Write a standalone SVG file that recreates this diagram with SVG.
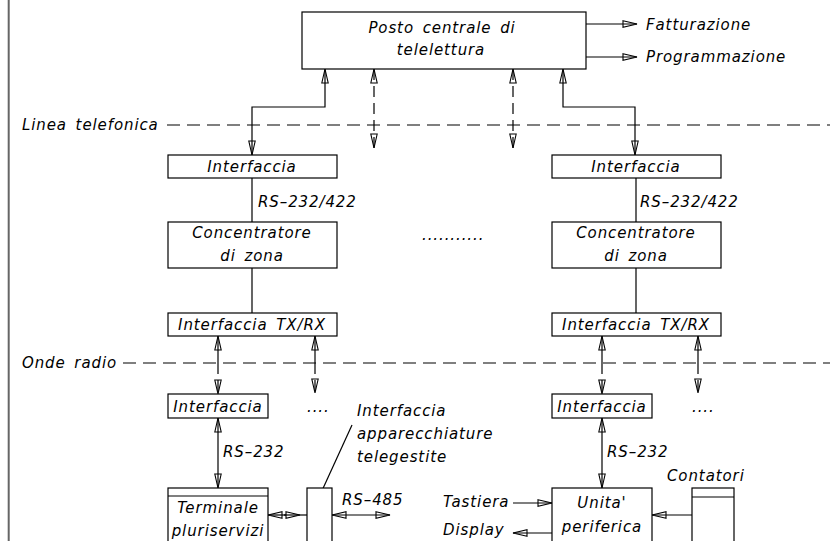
<svg xmlns="http://www.w3.org/2000/svg" width="830" height="541" viewBox="0 0 830 541">
<defs>
<style>
text{font-family:"DejaVu Sans","Liberation Sans",sans-serif;font-style:italic;font-size:15px;letter-spacing:0.9px;word-spacing:3px;fill:#000}
.c{text-anchor:middle}
.box{fill:#fff;stroke:#000;stroke-width:1.2}
.ln{fill:none;stroke:#000;stroke-width:1.2}
.dl{fill:none;stroke:#000;stroke-width:1.2;stroke-dasharray:13 7}
.da{fill:none;stroke:#000;stroke-width:1.2;stroke-dasharray:11 6}
.ae{marker-end:url(#ah)}
.as{marker-start:url(#ah)}
</style>
<marker id="ah" viewBox="-15 -4 16 8" refX="0" refY="0" markerWidth="16" markerHeight="8" markerUnits="userSpaceOnUse" orient="auto-start-reverse">
<path d="M-14,-3.2 L0,0 L-14,3.2 Z" fill="none" stroke="#000" stroke-width="1.1"/>
</marker>
</defs>
<rect width="830" height="541" fill="#fff"/>
<line x1="8.7" y1="0" x2="8.7" y2="541" stroke="#666" stroke-width="2"/>

<g id="sep-lines">
<line class="dl" x1="167" y1="125" x2="830" y2="125"/>
<line class="dl" x1="123" y1="363" x2="830" y2="363"/>
<text x="22" y="130">Linea  telefonica</text>
<text x="22" y="368">Onde  radio</text>
</g>

<g id="connectors">
<path class="ln ae" d="M586,24 H637"/>
<path class="ln ae" d="M586,57 H637"/>
<path class="ln as ae" d="M325,69 V107 H252 V155"/>
<path class="ln as ae" d="M563,69 V107 H635 V155"/>
<path class="da as ae" d="M374,69 V148"/>
<path class="da as ae" d="M513,69 V148"/>
<path class="ln" d="M252,178 V222 M252,268 V313"/>
<path class="ln" d="M636,178 V222 M636,268 V313"/>
<path class="ln as" d="M218,336 V363"/>
<path class="da ae" d="M218,363 V394"/>
<path class="ln as" d="M315,336 V363"/>
<path class="da ae" d="M315,363 V393"/>
<path class="ln as" d="M602,336 V363"/>
<path class="da ae" d="M602,363 V394"/>
<path class="ln as" d="M698,336 V363"/>
<path class="da ae" d="M698,363 V393"/>
<path class="ln as ae" d="M218,418 V488"/>
<path class="ln as ae" d="M602,418 V488"/>
<path class="ln as" d="M268,515 H286"/>
<path class="ln ae" d="M284,515 H300"/>
<path class="ln" d="M300,515 H307"/>
<path class="ln as ae" d="M332,515 H390"/>
<path class="ln" d="M320,495 L352,425"/>
<path class="ln ae" d="M513,503 H552"/>
<path class="ln ae" d="M552,533 H513"/>
<path class="ln ae" d="M692,515 H652"/>
</g>

<g id="posto-centrale">
<rect class="box" x="302" y="12" width="284" height="57"/>
<text class="c" x="442" y="33">Posto  centrale  di</text>
<text class="c" x="441" y="55">telelettura</text>
</g>
<g id="fatturazione"><text x="646" y="30">Fatturazione</text></g>
<g id="programmazione"><text x="646" y="62">Programmazione</text></g>

<g id="interfaccia-1">
<rect class="box" x="168" y="155" width="169" height="23"/>
<text class="c" x="252" y="172">Interfaccia</text>
</g>
<g id="interfaccia-2">
<rect class="box" x="552" y="155" width="169" height="23"/>
<text class="c" x="636" y="172">Interfaccia</text>
</g>
<text x="258" y="207">RS–232/422</text>
<text x="640" y="207">RS–232/422</text>

<g id="concentratore-1">
<rect class="box" x="168" y="222" width="169" height="46"/>
<text class="c" x="252" y="238">Concentratore</text>
<text class="c" x="252" y="261">di  zona</text>
</g>
<g id="concentratore-2">
<rect class="box" x="552" y="222" width="169" height="46"/>
<text class="c" x="636" y="238">Concentratore</text>
<text class="c" x="636" y="261">di  zona</text>
</g>
<text x="422" y="240">...........</text>

<g id="txrx-1">
<rect class="box" x="168" y="313" width="169" height="23"/>
<text class="c" x="252" y="330">Interfaccia  TX/RX</text>
</g>
<g id="txrx-2">
<rect class="box" x="552" y="313" width="169" height="23"/>
<text class="c" x="636" y="330">Interfaccia  TX/RX</text>
</g>

<g id="interfaccia-3">
<rect class="box" x="168" y="394" width="100" height="24"/>
<text class="c" x="218" y="412">Interfaccia</text>
</g>
<g id="interfaccia-4">
<rect class="box" x="552" y="394" width="100" height="24"/>
<text class="c" x="602" y="412">Interfaccia</text>
</g>
<text x="307" y="412">....</text>
<text x="692" y="412">....</text>
<text x="223" y="457">RS–232</text>
<text x="607" y="457">RS–232</text>

<g id="terminale">
<rect class="box" x="168" y="488" width="100" height="70"/>
<line class="ln" x1="168" y1="496" x2="268" y2="496"/>
<text class="c" x="218" y="513">Terminale</text>
<text class="c" x="218" y="536">pluriservizi</text>
</g>
<g id="interfaccia-apparecchiature">
<rect class="box" x="307" y="488" width="25" height="70"/>
<text x="357" y="416">Interfaccia</text>
<text x="357" y="439">apparecchiature</text>
<text x="357" y="462">telegestite</text>
</g>
<text x="342" y="505">RS–485</text>

<g id="unita-periferica">
<rect class="box" x="552" y="488" width="100" height="70"/>
<text class="c" x="602" y="508">Unita'</text>
<text class="c" x="602" y="532">periferica</text>
</g>
<g id="tastiera"><text x="443" y="507">Tastiera</text></g>
<g id="display"><text x="443" y="535">Display</text></g>
<g id="contatori">
<rect class="box" x="692" y="488" width="42" height="70"/>
<line class="ln" x1="692" y1="497" x2="734" y2="497"/>
<text x="667" y="481">Contatori</text>
</g>
</svg>
